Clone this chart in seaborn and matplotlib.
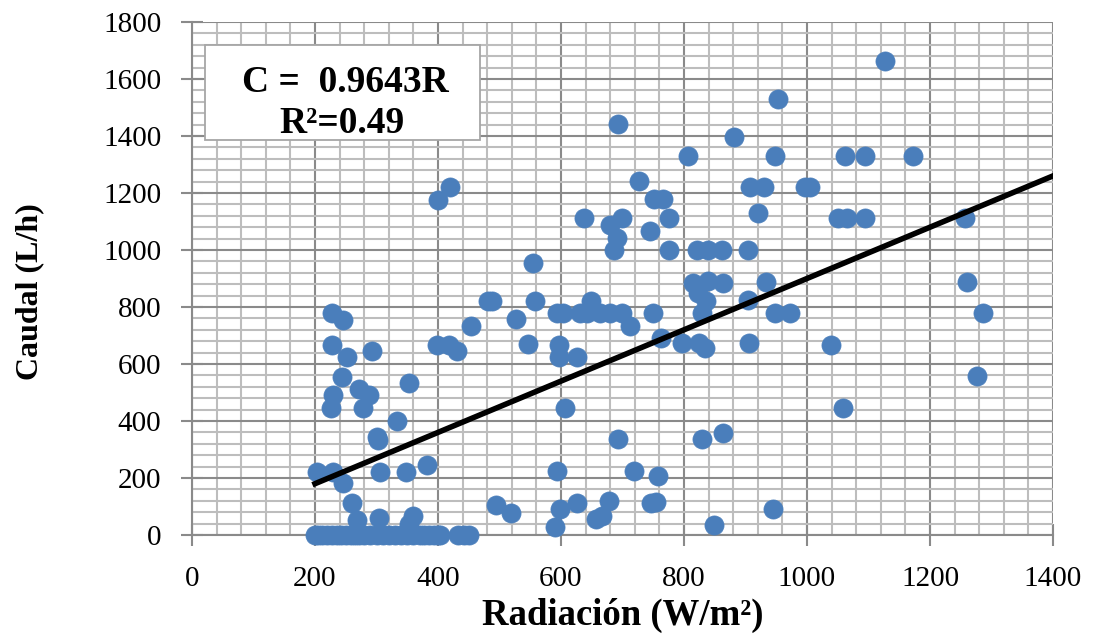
import matplotlib
matplotlib.use("Agg")
import matplotlib.pyplot as plt
from matplotlib.patches import Rectangle
from matplotlib.ticker import MultipleLocator
import seaborn as sns
import pandas as pd
import numpy as np

# Radiación (W/m²) and Caudal (L/h)
zero_rad = [200, 205, 212, 220, 228, 235, 242, 250, 258, 265, 272, 280, 290, 300,
            310, 320, 330, 340, 350, 360, 370, 378, 385, 393, 400, 403, 432, 442, 450]
zero_caudal = [0] * len(zero_rad)

low_rad = [203, 229, 246, 260, 268, 302, 305, 304, 348, 382, 360, 353, 333, 301]
low_caudal = [222, 222, 182, 112, 53, 335, 222, 60, 222, 245, 67, 39, 400, 344]

left_rad = [420, 400, 228, 246, 228, 252, 292, 244, 272, 288, 229, 226, 278, 353,
            398, 418, 431, 454, 481]
left_caudal = [1221, 1175, 779, 754, 667, 625, 646, 554, 512, 491, 491, 446, 446, 533,
               667, 667, 646, 733, 821]

mid_rad = [555, 488, 558, 527, 546, 597, 597, 626, 593, 603, 631, 642, 663, 680, 699,
           649, 712, 750, 763, 797, 824, 834, 906, 637, 680, 699, 691, 686, 727, 751,
           766, 776, 745, 776, 807, 948, 907, 930, 997, 1005, 920, 821, 839, 862, 904,
           815, 839, 863, 933, 823, 836, 829, 904, 948, 972, 693, 953, 1127, 881, 1062,
           1094, 1172, 1050, 1065, 1094, 1257, 1260, 1286, 1039, 1059, 1276, 607]
mid_caudal = [954, 821, 821, 758, 670, 667, 625, 625, 779, 779, 779, 779, 779, 779, 779,
              821, 733, 779, 691, 672, 672, 656, 672, 1112, 1088, 1112, 1042, 1000, 1242,
              1179, 1179, 1112, 1067, 1000, 1330, 1330, 1221, 1221, 1221, 1221, 1130,
              1000, 1000, 1000, 1000, 884, 891, 884, 888, 849, 821, 779, 824, 779, 779,
              1442, 1530, 1663, 1397, 1330, 1330, 1330, 1112, 1112, 1112, 1112, 888, 779,
              667, 446, 558, 446]

bottom_rad = [829, 863, 693, 594, 719, 758, 494, 519, 598, 590, 626, 657, 667, 678,
              746, 754, 849, 945]
bottom_caudal = [337, 358, 337, 224, 224, 207, 105, 77, 91, 28, 112, 56, 67, 119,
                 112, 116, 35, 91]

# Trend line as drawn in the chart
trend_x = [200, 1400]
trend_slope = 0.9

label_eq = "C =  0.9643R"
label_r2 = "R²=0.49"

x_ticks = [0, 200, 400, 600, 800, 1000, 1200, 1400]
y_ticks = [0, 200, 400, 600, 800, 1000, 1200, 1400, 1600, 1800]

df = pd.DataFrame({
    "Radiacion": zero_rad + low_rad + left_rad + mid_rad + bottom_rad,
    "Caudal": zero_caudal + low_caudal + left_caudal + mid_caudal + bottom_caudal,
})
trend = pd.DataFrame({"Radiacion": trend_x,
                      "Caudal": [trend_slope * v for v in trend_x]})

plt.rcParams["font.family"] = ["Liberation Serif", "DejaVu Serif"]

fig = plt.figure(figsize=(10.93, 6.40), dpi=100)
ax = fig.add_axes([192 / 1093, 105 / 640, 861 / 1093, 513 / 640])

ax.set_xlim(0, 1400)
ax.set_ylim(0, 1800)
ax.xaxis.set_minor_locator(MultipleLocator(40))
ax.yaxis.set_minor_locator(MultipleLocator(40))
ax.set_xticks(x_ticks)
ax.set_yticks(y_ticks)
ax.grid(which="minor", color="#bdbdbd", linewidth=1.5, zorder=0)
ax.grid(which="major", color="#8a8a8a", linewidth=1.5, zorder=0)
ax.set_axisbelow(True)

sns.scatterplot(data=df, x="Radiacion", y="Caudal", ax=ax, s=190,
                color="#4a7ebb", edgecolor="#4a7ebb", linewidth=0.5,
                zorder=3, clip_on=False)
sns.lineplot(data=trend, x="Radiacion", y="Caudal", ax=ax, color="black",
             linewidth=4, zorder=4)

for side in ["top", "right"]:
    ax.spines[side].set_visible(False)
for side in ["left", "bottom"]:
    ax.spines[side].set_color("#8a8a8a")
    ax.spines[side].set_linewidth(1.5)

ax.tick_params(axis="y", which="major", direction="inout", length=16, width=1.5,
               color="#8a8a8a", labelsize=21, pad=14)
ax.tick_params(axis="x", which="major", direction="inout", length=16, width=1.5,
               color="#8a8a8a", labelsize=21, pad=14)
ax.tick_params(which="minor", length=0)

ax.set_xlabel("Radiación (W/m²)", fontsize=26.5, fontweight="bold")
ax.set_ylabel("Caudal (L/h)", fontsize=23, fontweight="bold")
ax.xaxis.set_label_coords(0.5, -0.122)
ax.yaxis.set_label_coords(-0.172, 0.474)

box = Rectangle((0.015, 0.770), 0.319, 0.185, transform=ax.transAxes,
                facecolor="white", edgecolor="#a6a6a6", linewidth=1.3, zorder=5)
ax.add_patch(box)
ax.text(0.178, 0.882, label_eq, transform=ax.transAxes, ha="center", va="center",
        fontsize=27, fontweight="bold", zorder=6)
ax.text(0.174, 0.802, label_r2, transform=ax.transAxes, ha="center", va="center",
        fontsize=27, fontweight="bold", zorder=6)

fig.savefig("out.png", dpi=100)
